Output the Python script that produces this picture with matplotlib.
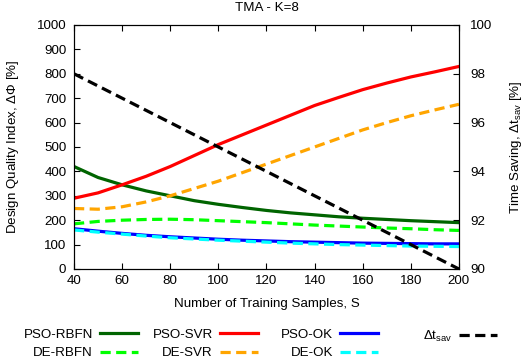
import matplotlib
matplotlib.use("Agg")
import matplotlib.pyplot as plt

FS = 9.6
plt.rcParams["font.family"] = ["Liberation Sans", "DejaVu Sans"]
plt.rcParams["font.size"] = FS
plt.rcParams["mathtext.fontset"] = "custom"
plt.rcParams["mathtext.rm"] = "Liberation Sans"
plt.rcParams["mathtext.it"] = "Liberation Sans"

# training samples
samples = [40, 50, 60, 70, 80, 90, 100, 110, 120, 130, 140, 150, 160, 170, 180, 190, 200]

# design quality index [%]
pso_rbfn = [420, 375, 345, 320, 300, 280, 265, 252, 240, 230, 222, 214, 208, 203, 198, 194, 190]
de_rbfn  = [185, 195, 200, 203, 204, 202, 198, 194, 190, 185, 180, 176, 172, 168, 165, 161, 158]
pso_svr  = [290, 312, 345, 380, 420, 465, 510, 550, 590, 630, 670, 703, 735, 762, 787, 808, 830]
de_svr   = [248, 245, 255, 275, 300, 330, 360, 395, 430, 465, 500, 535, 570, 600, 628, 652, 675]
pso_ok   = [165, 155, 146, 138, 132, 127, 122, 118, 115, 112, 110, 108, 106, 105, 104, 103, 103]
de_ok    = [160, 151, 143, 135, 128, 123, 118, 114, 110, 106, 103, 100, 98, 96, 94, 93, 92]

# time saving [%]
dt_samples = [40, 200]
dt_sav = [98, 90]

series = [
    ("PSO-RBFN", pso_rbfn, "#006400", "-"),
    ("DE-RBFN", de_rbfn, "#00ff00", "--"),
    ("PSO-SVR", pso_svr, "#ff0000", "-"),
    ("DE-SVR", de_svr, "#ffa500", "--"),
    ("PSO-OK", pso_ok, "#0000ff", "-"),
    ("DE-OK", de_ok, "#00ffff", "--"),
]
DASH = (3.2, 1.7)

fig = plt.figure(figsize=(5.23, 3.59), dpi=100)
ax = fig.add_axes([0.1415, 0.2507, 0.736, 0.6797])
ax2 = ax.twinx()

handles = []
for name, vals, color, ls in series:
    kw = dict(dashes=DASH) if ls == "--" else {}
    (h,) = ax.plot(samples, vals, color=color, lw=2.3, label=name, **kw)
    handles.append(h)

(hdt,) = ax2.plot(dt_samples, dt_sav, color="black", lw=2.3, dashes=DASH,
                  label=r"$\Delta$t$_{\mathrm{sav}}$")

ax.set_xlim(40, 200)
ax.set_ylim(0, 1000)
ax.set_xticks(range(40, 201, 20))
ax.set_yticks(range(0, 1001, 100))
ax2.set_ylim(90, 100)
ax2.set_yticks(range(90, 101, 2))

ax.tick_params(direction="in", top=True, length=4, labelsize=FS)
ax.tick_params(axis="x", pad=4.5)
ax.tick_params(axis="y", right=False, pad=5.5)
ax2.tick_params(direction="in", length=4, labelsize=FS, pad=8)

ax.set_xlabel("Number of Training Samples, S", fontsize=FS, labelpad=8)
ax.set_ylabel(r"Design Quality Index, $\Delta\Phi$ [%]", fontsize=FS, labelpad=11)
ax2.set_ylabel(r"Time Saving, $\Delta$t$_{\mathrm{sav}}$ [%]", fontsize=FS, labelpad=11)
ax.set_title("TMA - K=8", fontsize=FS, pad=10)

# gnuplot-like key: fixed-width columns, text right-aligned before the sample
columns = [handles[0:2], handles[2:4], handles[4:6], [hdt]]
col_right = [138, 258, 378, 497]
for hs, xr in zip(columns, col_right):
    fig.legend(handles=hs, loc="upper right", markerfirst=False,
               frameon=False, handlelength=2.85, handletextpad=0.53,
               labelspacing=0.46, borderpad=0, borderaxespad=0,
               bbox_to_anchor=(xr / 523, 0.085), fontsize=FS)

fig.savefig("out.png", dpi=100)
